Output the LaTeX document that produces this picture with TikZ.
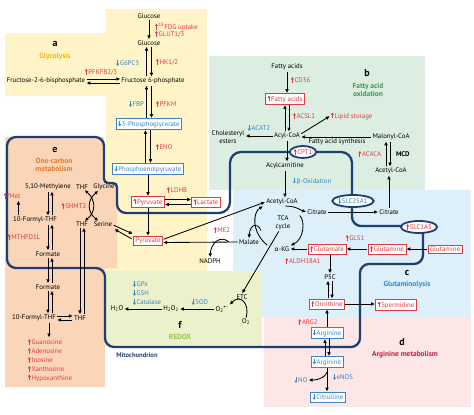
\documentclass[tikz,border=0pt]{standalone}
\usepackage{fontspec}
\setmainfont{PT Sans}
\newfontfamily\grk{DejaVu Sans}
\usetikzlibrary{arrows.meta,shapes.geometric}
\definecolor{rd}{HTML}{E23B3F}
\definecolor{bl}{HTML}{3C86C4}
\definecolor{navy}{HTML}{1E3F73}
\definecolor{yel}{HTML}{FFF4C7}
\definecolor{grn}{HTML}{DCEEE2}
\definecolor{lbl}{HTML}{DDEFF8}
\definecolor{pnk}{HTML}{FDE6E6}
\definecolor{org}{HTML}{FBD5B8}
\definecolor{rdx}{HTML}{EAF1CB}
\definecolor{glyc}{HTML}{F2B705}
\definecolor{faog}{HTML}{3A9A55}
\definecolor{glnb}{HTML}{2E8BD0}
\definecolor{argr}{HTML}{C62039}
\definecolor{ocm}{HTML}{E3782A}
\definecolor{rdxg}{HTML}{9DC44B}
\newcommand\myup{\tikz[baseline=0pt]\draw[draw=rd,line width=0.8pt,-{Triangle[length=2.2pt,width=2.8pt]}] (0pt,0pt)--(0pt,5.8pt);\hspace{0.8pt}}
\newcommand\mydn{\tikz[baseline=0pt]\draw[draw=bl,line width=0.8pt,-{Triangle[length=2.2pt,width=2.8pt]}] (0pt,5.8pt)--(0pt,0pt);\hspace{0.8pt}}
\begin{document}
\begin{tikzpicture}[x=1pt,y=-1pt,
 tx/.style={font=\fontsize{6.8}{7.6}\selectfont, inner sep=0.8pt, align=center},
 rtx/.style={tx, text=rd},
 btx/.style={tx, text=bl},
 rbox/.style={tx, text=rd, draw=rd, fill=white, line width=0.6pt, inner xsep=2pt, inner ysep=1.6pt},
 bbox/.style={tx, text=bl, draw=bl, fill=white, line width=0.6pt, inner xsep=2pt, inner ysep=1.6pt},
 arr/.style={-{Triangle[length=3.6pt,width=3.2pt]}, line width=0.85pt, shorten <=0.6pt, shorten >=0.6pt},
 arrb/.style={{Triangle[length=3.2pt,width=3pt]}-{Triangle[length=3.2pt,width=3pt]}, line width=0.85pt},
 mito/.style={draw=navy, line width=2.3pt},
 ell/.style={ellipse, tx, draw=navy, line width=1.8pt, fill=white, inner sep=0pt, minimum height=12pt},
 ttl/.style={font=\fontsize{7.4}{8.2}\selectfont\bfseries, align=center},
 ltr/.style={font=\fontsize{10}{10}\selectfont\bfseries}]
\useasboundingbox (0,0) rectangle (474,415);
% backgrounds
\fill[yel] (106,9) -- (207,9) -- (207,271) -- (106,271) -- (106,96) -- (5,96) -- (5,33) -- (106,33) -- cycle;
\fill[grn] (209,56) rectangle (425,190);
\fill[lbl] (233,190) rectangle (471,317);
\fill[pnk] (264,317) rectangle (471,407);
\fill[org] (5,137) -- (104,137) -- (104,183) -- (117,183) -- (117,268) -- (105,268) -- (105,387) -- (5,387) -- cycle;
\fill[rdx] (105,271) rectangle (262,346);
% mitochondrion outline
\draw[mito] (50,137) [rounded corners=9pt] -- (104,137) [rounded corners=4pt] -- (104,183) -- (117,183) [rounded corners=9pt] -- (117,213) [rounded corners=11pt] -- (230,213) -- (230,152) -- (352,152) [rounded corners=9pt] -- (352,226) -- (423,226) -- (423,264) -- (360,264) -- (360,347) -- (105,347) -- (105,268) -- (7,268) -- (7,137) -- (50,137);
% ---------- glycolysis ----------
\node[ltr] (la) at (55,44) {a};
\node[ttl, text=glyc] (lga) at (55,57) {Glycolysis};
\node[tx] (glc1) at (149,16) {Glucose};
\node[tx] (glc2) at (149,43) {Glucose};
\node[tx] (f6p) at (153,81) {Fructose 6-phosphate};
\node[tx] (f26) at (46,81) {Fructose-2-6-bisphosphate};
\node[bbox] (pg3) at (149,124) {\mydn 3-Phosphoglycerate};
\node[bbox] (pep) at (148,169) {\mydn Phosphoenolpyruvate};
\node[rbox] (pyr1) at (148,202) {\myup Pyruvate};
\node[rbox] (lac) at (206,202) {\myup Lactate};
\node[rbox] (pyr2) at (148,241) {Pyruvate};
\node[rtx, anchor=west] (lfdg) at (154,27) {\myup\textsuperscript{18}FDG uptake};
\node[rtx, anchor=west] (lglut) at (154,34) {\myup GLUT1/3};
\node[btx, anchor=east] (lg6) at (140,63) {\mydn G6PC3};
\node[rtx, anchor=west] (lhk) at (155,62) {\myup HK1/2};
\node[rtx] (lpfkfb) at (101,72) {\myup PFKFB2/3};
\node[btx, anchor=east] (lfbp) at (145,104) {\mydn FBP};
\node[rtx, anchor=west] (lpfkm) at (155,104) {\myup PFKM};
\node[rtx, anchor=west] (leno) at (155,147) {\myup ENO};
\node[rtx] (lldhb) at (177,190) {\myup LDHB};
\draw[arr] (glc1) -- (glc2);
\draw[arr] ([xshift=-2.5pt]glc2.center |- f6p.north) -- ([xshift=-2.5pt]glc2.south);
\draw[arr] ([xshift=2.5pt]glc2.south) -- ([xshift=2.5pt]glc2.center |- f6p.north);
\draw[arr] ([xshift=-2.5pt]pg3.north) -- ([xshift=-2.5pt]pg3.center |- f6p.south);
\draw[arr] ([xshift=2.5pt]pg3.center |- f6p.south) -- ([xshift=2.5pt]pg3.north);
\draw[arr] ([xshift=-2.5pt]pep.north) -- ([xshift=-2.5pt]pep.center |- pg3.south);
\draw[arr] ([xshift=2.5pt]pep.center |- pg3.south) -- ([xshift=2.5pt]pep.north);
\draw[arr] ([yshift=2pt]f6p.center -| f26.east) -- ([yshift=2pt]f6p.west);
\draw[arr] ([yshift=-2pt]f6p.west) -- ([yshift=-2pt]f6p.center -| f26.east);
\draw[arr] (pep) -- (pyr1);
\draw[arr] ([yshift=2.5pt]pyr1.east) -- ([yshift=2.5pt]lac.west);
\draw[arr] ([yshift=-2.5pt]lac.west) -- ([yshift=-2.5pt]pyr1.east);
\draw[arr] (pyr1) -- (pyr2);
% ---------- fatty acid oxidation ----------
\node[ltr] (lb) at (367,73) {b};
\node[ttl, text=faog] (lfao) at (368,90) {Fatty acid\\oxidation};
\node[tx] (fa1) at (287,67) {Fatty acids};
\node[rbox] (fa2) at (285,99) {\myup Fatty acids};
\node[tx] (acoa) at (287,136) {Acyl-CoA};
\node[tx] (chol) at (228,137) {Cholesteryl\\esters};
\node[rtx, anchor=west] (lipid) at (330,116) {\myup Lipid storage};
\node[tx] (malc) at (391,137) {Malonyl-CoA};
\node[tx] (acet1) at (391,171) {Acetyl-CoA};
\node[tx] (acarn) at (285,166) {Acylcarnitine};
\node[rtx, anchor=west] (lcd36) at (290,80) {\myup CD36};
\node[rtx, anchor=west] (lacsl) at (292,116) {\myup ACSL1};
\node[btx] (lacat) at (259,128) {\mydn ACAT2};
\node[tx] (lfas) at (337,142) {Fatty acid synthesis};
\node[rtx, anchor=east] (lacaca) at (382,154) {\myup ACACA};
\node[tx, anchor=west, font=\fontsize{6.8}{7.6}\selectfont\bfseries] (lmcd) at (395,154) {MCD};
\node[btx, anchor=west] (lbox) at (292,181) {\mydn{\grk\fontsize{6.2}{7}\selectfont β}-Oxidation};
\node[ell, text=rd] (cpt1) at (303,152) {\myup CPT1};
\draw[arr] (fa1) -- (fa1.center |- fa2.north);
\draw[arr] ([xshift=-2pt]acoa.center |- acoa.north) -- ([xshift=-2pt]acoa.center |- fa2.south);
\draw[arr] ([xshift=2pt]acoa.center |- fa2.south) -- ([xshift=2pt]acoa.north);
\draw[arr] ([yshift=2pt]acoa.east) -- (lipid.west);
\draw[arr] (acoa.west) -- (acoa.west -| chol.east);
\draw[arr] (malc.west) -- (malc.west -| acoa.east);
\draw[arr] ([xshift=-5pt]acet1.north) -- ([xshift=-5pt]acet1.center |- malc.south);
\draw[arr] ([xshift=-1pt]acet1.center |- malc.south) -- ([xshift=-1pt]acet1.north);
\draw[arr] (acoa.south) -- (acoa.south |- acarn.north);
% ---------- TCA / glutaminolysis ----------
\node[tx] (acet2) at (282,202) {Acetyl-CoA};
\node[tx] (tca) at (283,223) {TCA\\cycle};
\node[tx] (cit1) at (317,212) {Citrate};
\node[tx] (cit2) at (389,212) {Citrate};
\node[tx] (akg) at (282,249) {{\grk\fontsize{6.2}{7}\selectfont α}-KG};
\node[tx] (mal) at (249,242) {Malate};
\node[tx] (nadph) at (210,261) {NADPH};
\node[rtx] (lme2) at (222,230) {\myup ME2};
\coordinate (tcab) at (261,231);
\draw[arr] (acarn.south) -- (acarn.south |- acet2.north);
\draw[arr] ([yshift=1.5pt]pyr2.east) -- (acet2.west);
\draw[arr] (mal.west) -- ([yshift=-1.5pt]pyr2.east);
\draw[arr] ([xshift=-9pt]mal.west) .. controls (220,235) and (211,243) .. (nadph.north);
\draw[arr] ([xshift=3pt]acet2.south) .. controls (296,206) and (300,210) .. (cit1.west);
\draw[arr] ([xshift=8pt]tca.north east) .. controls (306,222) and (303,240) .. (akg.north east);
\draw[arr] ([xshift=-6pt]akg.north west) .. controls (251,232) and (253,212) .. ([xshift=-2pt]acet2.south west);
\draw[arr] (tcab) .. controls (258,222) and (250,224) .. (mal.north);
\draw[arr] (cit1.east) -- (cit2.west);
\draw[arr] (cit2.north) -- (cit2.north |- acet1.south);
\node[ell, text=bl] (slc25) at (353,201) {\mydn SLC25A1};
\node[ell, text=rd] (slc1) at (419,227) {\myup SLC1A5};
\node[rbox] (gln0) at (445,249) {Glutamine};
\node[rbox] (gln1) at (387,249) {\myup Glutamine};
\node[rbox] (glu) at (327,249) {\myup Glutamate};
\node[tx] (p5c) at (330,277) {P5C};
\node[rbox] (orn) at (327,304) {\myup Ornithine};
\node[rbox] (spd) at (396,305) {\myup Spermidine};
\node[rtx] (lgls) at (355,238) {\myup GLS1};
\node[rtx] (laldh) at (303,261) {\myup ALDH18A1};
\node[ltr] (lc) at (407,273) {c};
\node[ttl, text=glnb] (lgln) at (407,285) {Glutaminolysis};
\draw[arr] (gln0.west) -- (gln1.east);
\draw[arr] (gln1.west) -- (glu.east);
\draw[arr] (glu.west) -- (akg.east);
\draw[arr] (glu.south -| p5c.center) -- (p5c.north);
\draw[arr] ([xshift=-2pt]orn.north -| p5c.center) -- ([xshift=-2pt]p5c.south);
\draw[arr] ([xshift=2pt]p5c.south) -- ([xshift=2pt]orn.north -| p5c.center);
\draw[arr] (orn.east) -- (orn.east -| spd.west);
% ---------- arginine ----------
\node[bbox] (arg1) at (327,333) {\mydn Arginine};
\node[bbox] (arg2) at (327,362) {\mydn Arginine};
\node[bbox] (citr) at (328,397) {\mydn Citrulline};
\node[btx] (no) at (301,380) {\mydn NO};
\node[rtx] (larg2) at (308,322) {\myup ARG2};
\node[btx] (lenos) at (343,377) {\mydn eNOS};
\node[ltr] (ld) at (402,342) {d};
\node[ttl, text=argr] (larg) at (405,355) {Arginine metabolism};
\draw[arr] (arg1.north) -- (arg1.north |- orn.south);
\draw[arr] ([xshift=-2pt]arg2.north) -- ([xshift=-2pt]arg1.south);
\draw[arr] ([xshift=2pt]arg1.south) -- ([xshift=2pt]arg2.north);
\draw[arr] (arg2.south) -- (arg2.south |- citr.north);
\draw[arr] ([yshift=-4pt]arg2.south) .. controls (326,376) and (320,380) .. (no.east);
% ---------- redox ----------
\node[tx] (h2o) at (117,309) {H\textsubscript{2}O};
\node[tx] (h2o2) at (171,309) {H\textsubscript{2}O\textsubscript{2}};
\node[tx] (o2m) at (222,309) {O\textsubscript{2}\textsuperscript{\textbullet−}};
\node[tx] (etc) at (242,297) {ETC};
\node[tx] (o2) at (246,322) {O\textsubscript{2}};
\node[btx, anchor=west] (lgpx) at (132,284) {\mydn GPx};
\node[btx, anchor=west] (lgsh) at (132,293) {\mydn GSH};
\node[btx, anchor=west] (lcat) at (132,302) {\mydn Catalase};
\node[btx] (lsod) at (200,302) {\mydn SOD};
\node[ltr] (lf) at (180,325) {f};
\node[ttl, text=rdxg] (lrdx) at (180,337) {REDOX};
\node[tx, font=\fontsize{6.6}{7}\selectfont\bfseries, text=navy] (lmito) at (137,355) {Mitochondrion};
\draw[arr] ([xshift=-4pt]tca.south) -- (etc.north);
\draw[arr] (o2m.west) -- (h2o2.east);
\draw[arr] (h2o2.west) -- (h2o.east);
\draw[arr] (o2.north) .. controls (250,303) and (240,294) .. (o2m.north east);
% ---------- one-carbon ----------
\node[ltr] (le) at (55,150) {e};
\node[ttl, text=ocm] (locm) at (54,165) {One-carbon\\metabolism};
\node[tx] (mthf) at (48,187) {5,10-Methylene};
\node[tx] (thf1) at (82,187) {THF};
\node[tx] (gly) at (104,187) {Glycine};
\node[rtx] (fmet) at (12,196) {\myup fMet};
\node[tx] (f10a) at (35,220) {10-Formyl-THF};
\node[tx] (thf2) at (82,224) {THF};
\node[tx] (ser) at (103,224) {Serine};
\node[rtx] (lshmt) at (74,206) {\myup SHMT2};
\node[rtx] (lmthfd) at (24,237) {\myup MTHFD1L};
\node[tx] (form) at (48,254) {Formate};
\node[tx] (form2) at (48,287) {Formate};
\node[tx] (f10b) at (34,318) {10-Formyl-THF};
\node[tx] (thf3) at (80,318) {THF};
\node[rtx, anchor=west] (gua) at (27,342) {\myup Guanosine};
\node[rtx, anchor=west] (ade) at (27,351) {\myup Adenosine};
\node[rtx, anchor=west] (ino) at (27,360) {\myup Inosine};
\node[rtx, anchor=west] (xan) at (27,369) {\myup Xanthosine};
\node[rtx, anchor=west] (hyp) at (27,378) {\myup Hypoxanthine};
\draw[arr] ([xshift=0pt]mthf.south) -- ([xshift=0pt]mthf.south |- f10a.north);
\draw[arr] ([xshift=4pt]mthf.south |- f10a.north) -- ([xshift=4pt]mthf.south);
\draw[arr] ([xshift=0pt]mthf.south |- f10a.south) -- ([xshift=0pt]mthf.south |- form.north);
\draw[arr] ([xshift=4pt]mthf.south |- form.north) -- ([xshift=4pt]mthf.south |- f10a.south);
\draw[arr] ([xshift=0pt]mthf.south |- form.south) -- ([xshift=0pt]mthf.south |- form2.north);
\draw[arr] ([xshift=4pt]mthf.south |- form2.north) -- ([xshift=4pt]mthf.south |- form.south);
\draw[arr] ([xshift=0pt]mthf.south |- form2.south) -- ([xshift=0pt]mthf.south |- f10b.north);
\draw[arr] ([xshift=4pt]mthf.south |- f10b.north) -- ([xshift=4pt]mthf.south |- form2.south);
\draw[arr] ([xshift=-2pt]thf2.south) -- ([xshift=-2pt]thf2.south |- thf3.north);
\draw[arr] ([xshift=2pt]thf2.south |- thf3.north) -- ([xshift=2pt]thf2.south);
\draw[arr] ([yshift=2pt]f10b.east) -- ([yshift=2pt]f10b.east -| thf3.west);
\draw[arr] ([yshift=-2pt]f10b.east -| thf3.west) -- ([yshift=-2pt]f10b.east);
\draw[arr] ([xshift=15pt]f10b.south) -- ([xshift=15pt]f10b.south |- gua.north);
\draw[arr] ([xshift=-3pt]fmet.south east |- f10a.north) -- ([xshift=-3pt]fmet.south east);
\draw[arrb] ([xshift=3pt]thf1.south) .. controls (96,200) and (96,212) .. ([xshift=3pt]thf2.north);
\draw[arrb] ([xshift=-6pt]gly.south) .. controls (87,200) and (87,212) .. ([xshift=-5pt]ser.north);
\draw[arr] ([yshift=-1pt]ser.east) -- ([yshift=2pt]pyr2.north west);
\draw[arr] ([xshift=-1pt,yshift=2pt]pyr2.west) -- ([xshift=1pt,yshift=-5pt]ser.east);
\end{tikzpicture}
\end{document}
